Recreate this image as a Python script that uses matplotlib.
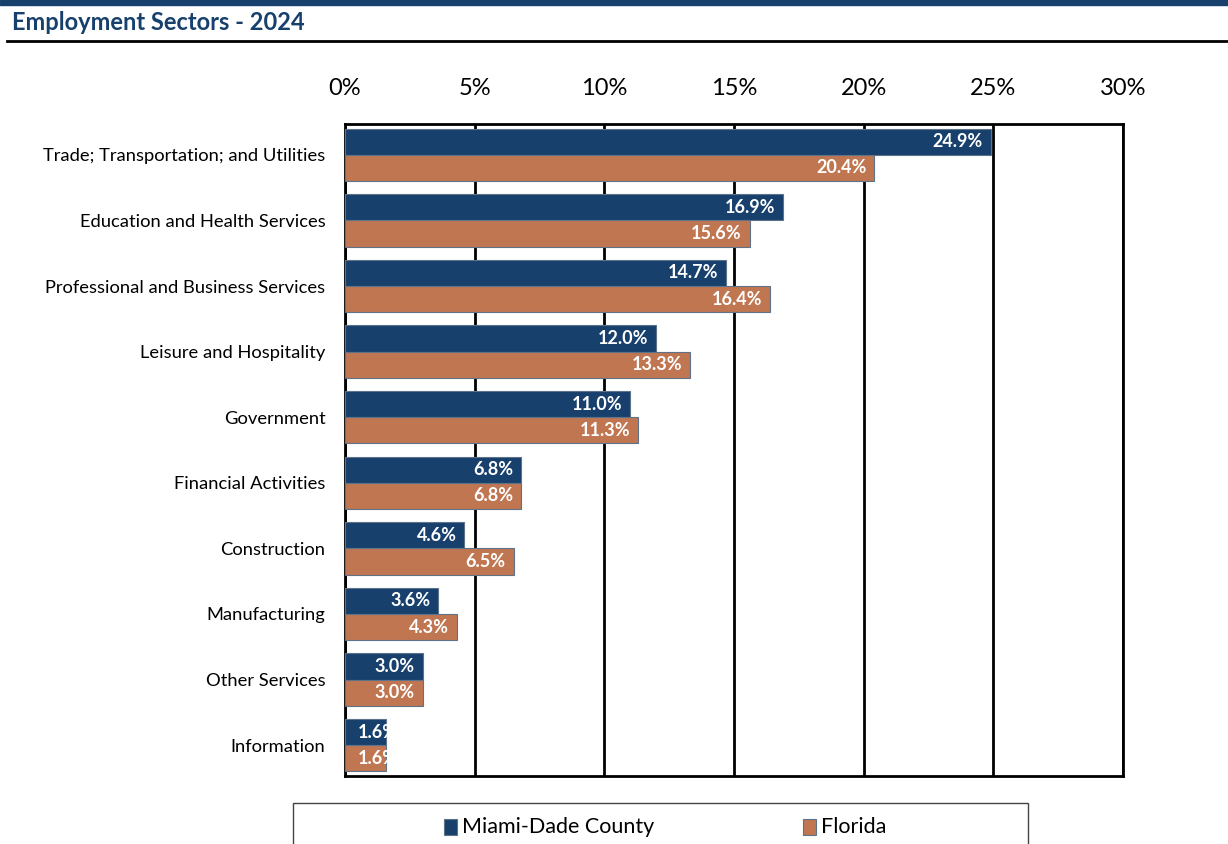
import numpy as np
import matplotlib.pyplot as plt
from matplotlib.patches import Rectangle
from matplotlib.lines import Line2D

plt.rcParams['font.family'] = ['Lato', 'DejaVu Sans']

# data
sectors = ["Trade; Transportation; and Utilities", "Education and Health Services",
           "Professional and Business Services", "Leisure and Hospitality", "Government",
           "Financial Activities", "Construction", "Manufacturing", "Other Services", "Information"]
miami_dade = [24.9, 16.9, 14.7, 12.0, 11.0, 6.8, 4.6, 3.6, 3.0, 1.6]
florida = [20.4, 15.6, 16.4, 13.3, 11.3, 6.8, 6.5, 4.3, 3.0, 1.6]
series_names = ["Miami-Dade County", "Florida"]
x_ticks = [0, 5, 10, 15, 20, 25, 30]

BLUE = "#17406d"
ORANGE = "#bf7651"
EDGE = "#5f7388"

W, H = 1228, 844
fig = plt.figure(figsize=(W / 100, H / 100), dpi=100)


def fx(px):
    return px / W


def fy(py):
    return 1 - py / H


# header band, title and rule
fig.patches.append(Rectangle((0, fy(5)), 1, 5 / H, transform=fig.transFigure,
                             color=BLUE, zorder=5))
fig.text(fx(12), fy(22), "Employment Sectors - 2024", fontsize=17, fontweight="bold",
         color=BLUE, va="center", ha="left")
fig.lines.append(Line2D([fx(7), 1], [fy(41)] * 2, transform=fig.transFigure,
                        color="black", lw=2))

ax = fig.add_axes([fx(345), fy(776), (1123 - 345) / W, (776 - 124) / H])

y = np.arange(len(sectors))
h = 0.4
bars_m = ax.barh(y - h / 2, miami_dade, height=h, color=BLUE, edgecolor=EDGE, lw=0.8, zorder=3)
bars_f = ax.barh(y + h / 2, florida, height=h, color=ORANGE, edgecolor=EDGE, lw=0.8, zorder=3)

for bars, vals in ((bars_m, miami_dade), (bars_f, florida)):
    for b, v in zip(bars, vals):
        yc = b.get_y() + b.get_height() / 2
        if v < 2:
            # label does not fit: Excel clips it at the bar end
            t = ax.text(0.5, yc, f"{v:.1f}%", ha="left", va="center", color="white",
                        fontsize=13, fontweight="bold", zorder=4)
            t.set_clip_path(b)
        else:
            ax.text(v - 0.3, yc, f"{v:.1f}%", ha="right", va="center", color="white",
                    fontsize=13, fontweight="bold", zorder=4)

ax.set_xlim(0, 30)
ax.set_ylim(len(sectors) - 0.53, -0.47)
ax.set_xticks(x_ticks)
ax.set_xticklabels([f"{t}%" for t in x_ticks])
ax.xaxis.tick_top()
ax.tick_params(axis="x", length=0, pad=18, labelsize=17)
ax.set_yticks(y)
ax.set_yticklabels(sectors)
ax.tick_params(axis="y", length=0, pad=14, labelsize=13.2)
ax.grid(axis="x", color="black", lw=2, zorder=1)
for s in ax.spines.values():
    s.set_linewidth(2)
    s.set_color("black")

# legend box, drawn by hand (runs off the bottom edge as in the original)
fig.patches.append(Rectangle((fx(293), fy(860)), (1028 - 293) / W, (860 - 803) / H,
                             transform=fig.transFigure, facecolor="white",
                             edgecolor="#444444", lw=1))
for name, col, hx in zip(series_names, [BLUE, ORANGE], [444, 803]):
    fig.patches.append(Rectangle((fx(hx), fy(835)), 13 / W, 16 / H, transform=fig.transFigure,
                                 facecolor=col, edgecolor=EDGE, lw=0.8))
    fig.text(fx(hx + 18), fy(827), name, fontsize=15.5, va="center", ha="left")

fig.savefig("out.png", dpi=100)
